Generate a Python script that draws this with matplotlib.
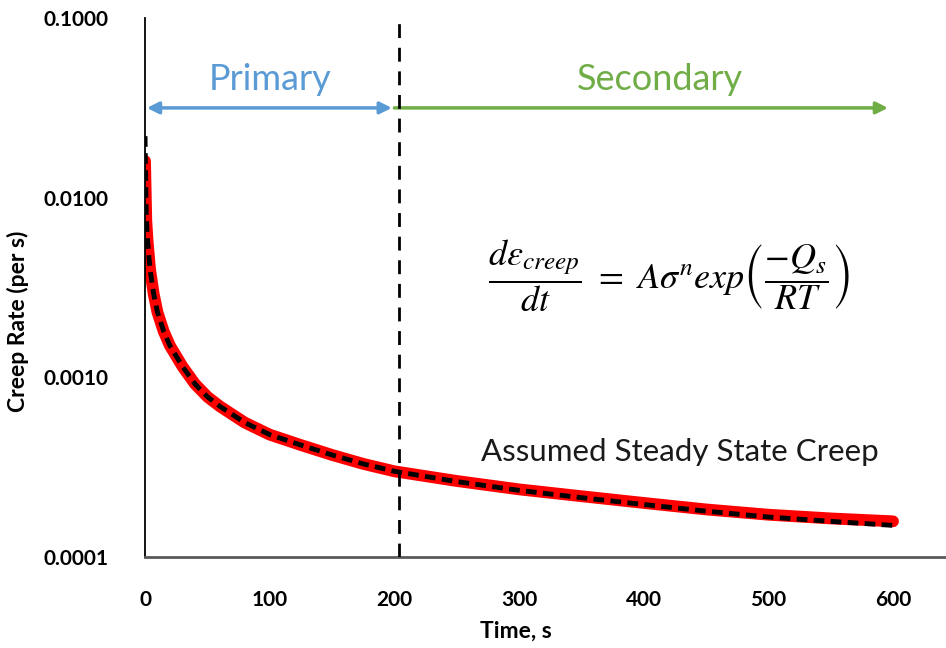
import matplotlib
matplotlib.use("Agg")
import matplotlib.pyplot as plt
from matplotlib.ticker import FixedLocator, FuncFormatter

time_s = [0, 1, 2, 4, 7, 10, 15, 20, 30, 40, 50, 60, 80, 100, 125, 150,
          175, 200, 250, 300, 350, 400, 450, 500, 550, 600]
creep_rate = [0.016, 0.0075, 0.0058, 0.0040, 0.0029, 0.0023, 0.0018, 0.0015,
              0.00115, 0.00092, 0.00078, 0.00069, 0.00056, 0.00048, 0.00042,
              0.00037, 0.00033, 0.00030, 0.000265, 0.000238, 0.000218,
              0.000200, 0.000184, 0.000172, 0.000164, 0.000158]
fit_time = [0, 1, 2, 4, 7, 10, 15, 20, 30, 40, 50, 60, 80, 100, 125, 150,
            175, 200, 250, 300, 350, 400, 450, 500, 550, 600]
fit_rate = [0.022, 0.0078, 0.0058, 0.0040, 0.0029, 0.0023, 0.0018, 0.0015,
            0.00115, 0.00092, 0.00078, 0.00069, 0.00056, 0.00048, 0.00042,
            0.00037, 0.00033, 0.00030, 0.000263, 0.000235, 0.000214,
            0.000196, 0.000180, 0.000167, 0.000158, 0.000150]

BOUNDARY = 204          # primary / secondary split, s
ARROW_Y = 0.0316
X_TICKS = [0, 100, 200, 300, 400, 500, 600]
Y_TICKS = [0.0001, 0.001, 0.01, 0.1]

plt.rcParams["font.family"] = ["Lato", "DejaVu Sans"]
plt.rcParams["mathtext.fontset"] = "stix"

fig = plt.figure(figsize=(9.46, 6.48), dpi=100)
ax = fig.add_axes([0.1533, 0.1404, 0.8467, 0.8318])

ax.plot(time_s, creep_rate, color="red", lw=8.5, solid_capstyle="round",
        solid_joinstyle="round", zorder=2)
ax.plot(fit_time, fit_rate, color="black", lw=3.5, dashes=(2.2, 1.3), zorder=3)
ax.axvline(BOUNDARY, color="black", lw=2.0, dashes=(5, 3.5), zorder=4)

ax.set_yscale("log")
ax.set_xlim(0, 642.5)
ax.set_ylim(1e-4, 1e-1)
ax.xaxis.set_major_locator(FixedLocator(X_TICKS))
ax.yaxis.set_major_locator(FixedLocator(Y_TICKS))
ax.yaxis.set_minor_locator(FixedLocator([]))
ax.yaxis.set_major_formatter(FuncFormatter(lambda v, p: f"{v:.4f}"))
ax.tick_params(axis="both", length=0, labelsize=15)
ax.tick_params(axis="y", pad=26)
ax.tick_params(axis="x", pad=24)
for lab in ax.get_xticklabels() + ax.get_yticklabels():
    lab.set_fontweight("bold")

for s in ("top", "right"):
    ax.spines[s].set_visible(False)
ax.spines["left"].set_color("black")
ax.spines["left"].set_linewidth(1.3)
ax.spines["bottom"].set_color("#595959")
ax.spines["bottom"].set_linewidth(2.0)

ax.set_xlabel("Time, s", fontsize=16.5, fontweight="bold")
ax.set_ylabel("Creep Rate (per s)", fontsize=16.5, fontweight="bold")
ax.xaxis.set_label_coords(0.463, -0.118)
ax.yaxis.set_label_coords(-0.145, 0.438)

blue, green = "#5B9BD5", "#70AD47"
ax.annotate("", xy=(1.5, ARROW_Y), xytext=(198, ARROW_Y),
            arrowprops=dict(arrowstyle="<|-|>,head_length=0.7,head_width=0.35",
                            color=blue, lw=2.5, shrinkA=0, shrinkB=0))
ax.annotate("", xy=(596, ARROW_Y), xytext=(200, ARROW_Y),
            arrowprops=dict(arrowstyle="-|>,head_length=0.7,head_width=0.35",
                            color=green, lw=2.5, shrinkA=0, shrinkB=0))
ax.text(100, 0.0455, "Primary", color=blue, fontsize=26, ha="center", va="center")
ax.text(413, 0.0455, "Secondary", color=green, fontsize=26, ha="center", va="center")

ax.text(420, 0.0037,
        r"$\dfrac{d\varepsilon_{creep}}{dt}\ =\ A\sigma^{n}exp\left(\dfrac{-Q_s}{RT}\right)$",
        fontsize=26, ha="center", va="center")
ax.text(429, 0.000382, "Assumed Steady State Creep", fontsize=22.5,
        ha="center", va="center", color="#1a1a1a")

fig.savefig("out.png", dpi=100)
